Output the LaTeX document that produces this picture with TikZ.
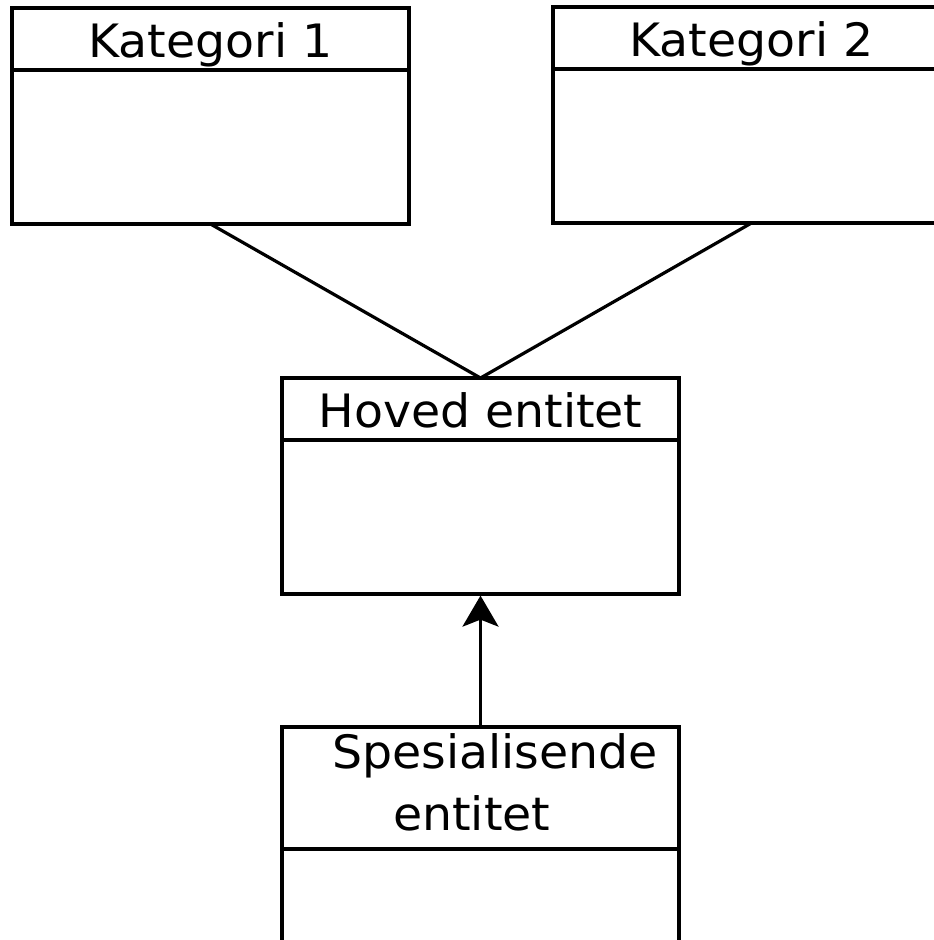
\documentclass[tikz,border=0pt]{standalone}
\usepackage{fontspec}
\newfontfamily\entfamily[FakeStretch=1.03]{DejaVu Sans}
\newcommand{\entfont}{\entfamily\fontsize{46}{62}\selectfont}
\usetikzlibrary{arrows.meta, positioning}

\tikzset{
  boxhead/.style={draw=black, line width=3.2pt, minimum width=397pt, minimum height=62pt,
    inner sep=0pt, outer sep=0pt, text height=36pt, text depth=0pt, font=\entfont},
  boxbody/.style={draw=black, line width=3.2pt, minimum width=397pt, minimum height=154pt,
    inner sep=0pt, outer sep=0pt},
  boxtext/.style={inner sep=0pt, anchor=base west, font=\entfont},
  link/.style={draw=black, line width=3.2pt}
}

\begin{document}
\begin{tikzpicture}[x=1pt, y=-1pt]
\useasboundingbox (0,0) rectangle (934,940);
\clip (0,0) rectangle (934,940);

% categories
\node[boxhead] (kat1head) at (210.5,39) {Kategori 1};
\node[boxbody, below=0pt of kat1head] (kat1body) {};
\node[boxhead] (kat2head) at (751.5,38) {Kategori 2};
\node[boxbody, below=0pt of kat2head] (kat2body) {};

% main entity
\node[boxhead] (hovedhead) at (480.5,409) {Hoved entitet};
\node[boxbody, below=0pt of hovedhead] (hovedbody) {};

% specialising entity
\node[boxhead, minimum height=122pt] (speshead) at (480.5,788) {};
\node[boxbody, below=0pt of speshead] (spesbody) {};
\node[boxtext] (spestext1) at (332,768) {Spesialisende};
\node[boxtext] (spestext2) at (393,830) {entitet};

\draw[link] (kat1body.south) -- (hovedhead.north);
\draw[link] (kat2body.south) -- (hovedhead.north);
\draw[link, -{Stealth[length=31pt, width=36pt, inset=7pt]}, shorten >=1.6pt] (speshead.north) -- (hovedbody.south);
\end{tikzpicture}
\end{document}
